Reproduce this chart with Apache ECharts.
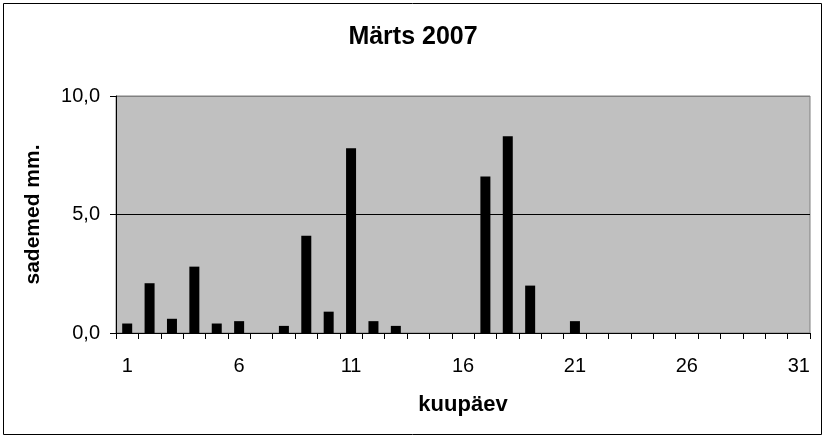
<!DOCTYPE html>
<html><head><meta charset="utf-8">
<script src="https://cdn.jsdelivr.net/npm/echarts@6/dist/echarts.min.js"></script>
<style>html,body{margin:0;padding:0;background:#fff}#c{width:826px;height:440px}</style>
</head><body><div id="c"></div>
<script>
const days = ['1','2','3','4','5','6','7','8','9','10','11','12','13','14','15','16','17','18','19','20','21','22','23','24','25','26','27','28','29','30','31'];
const precipitation = [0.4,2.1,0.6,2.8,0.4,0.5,0,0.3,4.1,0.9,7.8,0.5,0.3,0,0,0,6.6,8.3,2.0,0,0.5,0,0,0,0,0,0,0,0,0,0];
const yTicks = [0,5,10];
const title = 'Märts 2007';
const xName = 'kuupäev';
const yName = 'sademed mm.';

const chart = echarts.init(document.getElementById('c'), null, {renderer:'canvas'});
const font = 'Liberation Sans, Arial, sans-serif';
chart.setOption({
  animation:false,
  backgroundColor:'#fff',
  graphic:[{type:'rect',shape:{x:3.5,y:3.5,width:818,height:431},style:{fill:'none',stroke:'#000',lineWidth:1}}],
  title:{text:title,left:'center',top:20,textStyle:{fontFamily:font,fontSize:25,fontWeight:'bold',color:'#000'}},
  grid:{left:116,right:16,top:96,bottom:107,show:true,backgroundColor:'#C0C0C0',borderColor:'#808080',borderWidth:1},
  xAxis:{type:'category',data:days,name:xName,nameLocation:'middle',nameGap:61,
    nameTextStyle:{fontFamily:font,fontSize:22,fontWeight:'bold',color:'#000'},
    axisLine:{lineStyle:{color:'#000',width:1}},
    axisTick:{show:true,alignWithLabel:false,interval:0,length:6,lineStyle:{color:'#000'}},
    axisLabel:{interval:4,margin:23,fontFamily:font,fontSize:20,color:'#000'}},
  yAxis:{type:'value',min:0,max:10,interval:5,name:yName,nameLocation:'middle',nameGap:72,
    nameTextStyle:{fontFamily:font,fontSize:21,fontWeight:'bold',color:'#000'},
    axisLine:{show:true,lineStyle:{color:'#000',width:1}},
    axisTick:{show:true,length:6,lineStyle:{color:'#000'}},
    splitLine:{show:true,lineStyle:{color:['#000','#000','#808080'],width:1}},
    axisLabel:{margin:16,fontFamily:font,fontSize:20,color:'#000',formatter:v=>v.toFixed(1).replace('.',',')}},
  series:[{type:'bar',data:precipitation,barWidth:10,itemStyle:{color:'#000'}}]
});
</script></body></html>
